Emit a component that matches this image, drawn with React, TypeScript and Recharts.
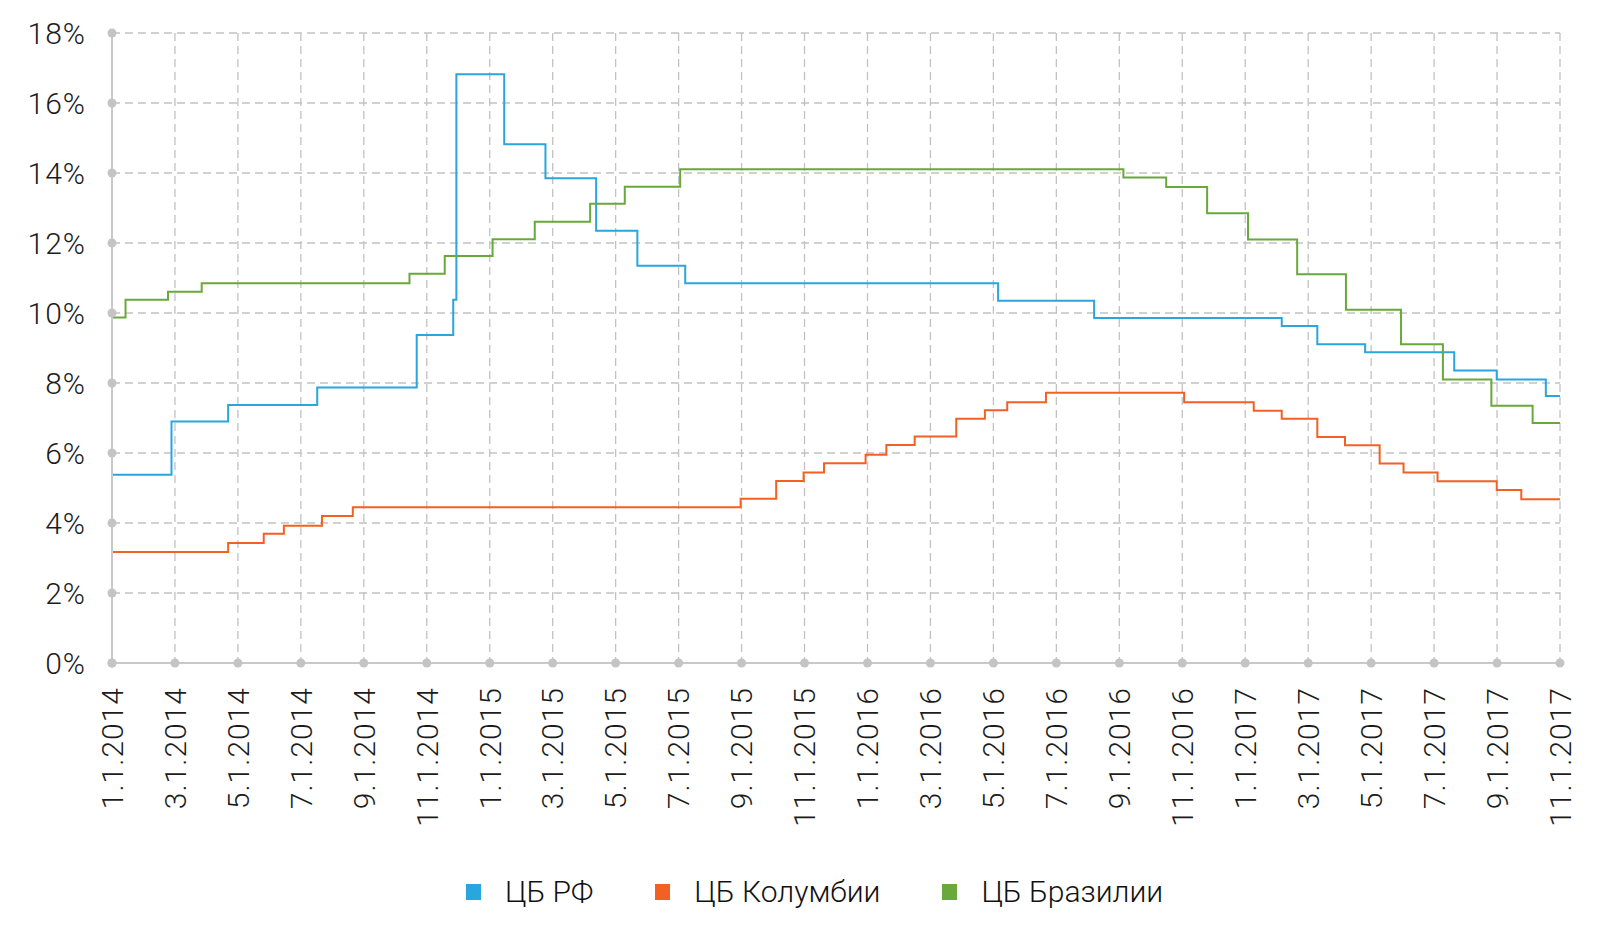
import { LineChart, Line, XAxis, YAxis, CartesianGrid } from 'recharts';

// x = months since 1.1.2014, y = key rate in %
const rfMonths = [0, 1.89, 3.69, 6.52, 9.68, 10.84, 10.94, 12.46, 13.77, 15.38, 16.69, 18.21, 28.15, 31.2, 37.16, 38.29, 39.81, 42.64, 43.99, 45.55, 46];
const rfRates = [5.38, 6.9, 7.37, 7.87, 9.37, 10.38, 16.82, 14.82, 13.85, 12.35, 11.35, 10.85, 10.35, 9.86, 9.63, 9.11, 8.88, 8.36, 8.1, 7.63, 7.63];

const coMonths = [0, 3.69, 4.82, 5.46, 6.67, 7.65, 19.97, 21.1, 21.97, 22.62, 23.94, 24.6, 25.5, 26.82, 27.73, 28.44, 29.67, 34.06, 36.27, 37.16, 38.29, 39.17, 40.27, 41.03, 42.11, 43.99, 44.77, 46];
const coRates = [3.17, 3.43, 3.69, 3.92, 4.2, 4.45, 4.69, 5.2, 5.44, 5.71, 5.95, 6.23, 6.47, 6.98, 7.22, 7.45, 7.72, 7.45, 7.21, 6.98, 6.46, 6.22, 5.7, 5.44, 5.19, 4.94, 4.68, 4.68];

const brMonths = [0, 0.43, 1.78, 2.85, 9.45, 10.57, 12.09, 13.43, 15.19, 16.29, 18.05, 32.13, 33.49, 34.79, 36.09, 37.65, 39.2, 40.95, 42.28, 43.82, 45.13, 46];
const brRates = [9.87, 10.38, 10.61, 10.85, 11.12, 11.63, 12.11, 12.61, 13.12, 13.61, 14.11, 13.87, 13.6, 12.85, 12.1, 11.11, 10.09, 9.11, 8.1, 7.35, 6.86, 6.86];

const xTickLabels = [
  '1.1.2014', '3.1.2014', '5.1.2014', '7.1.2014', '9.1.2014', '11.1.2014',
  '1.1.2015', '3.1.2015', '5.1.2015', '7.1.2015', '9.1.2015', '11.1.2015',
  '1.1.2016', '3.1.2016', '5.1.2016', '7.1.2016', '9.1.2016', '11.1.2016',
  '1.1.2017', '3.1.2017', '5.1.2017', '7.1.2017', '9.1.2017', '11.1.2017',
];
const yTicks = [0, 2, 4, 6, 8, 10, 12, 14, 16, 18];

const series = [
  { id: 'rf', name: 'ЦБ РФ', color: '#29a6de', months: rfMonths, rates: rfRates },
  { id: 'co', name: 'ЦБ Колумбии', color: '#f26024', months: coMonths, rates: coRates },
  { id: 'br', name: 'ЦБ Бразилии', color: '#69a83a', months: brMonths, rates: brRates },
];

const xTicks = xTickLabels.map((_, i) => i * 2);

const FONT = 'Roboto, "Open Sans", sans-serif';
const AXIS_GRAY = '#c9c9c9';

const XTick = ({ x, y, payload }: any) => {
  const label = xTickLabels[Math.round(payload.value / 2)];
  const ty = y + 24;
  return (
    <g>
      <circle cx={x} cy={y} r={4.5} fill="#c4c4c4" />
      <text
        x={x}
        y={ty}
        dy="0.36em"
        transform={`rotate(-90, ${x}, ${ty})`}
        textAnchor="end"
        fontFamily={FONT}
        fontWeight={300}
        fontSize={30}
        letterSpacing={1}
        fill="#1c1c1c"
      >
        {label}
      </text>
    </g>
  );
};

const YTick = ({ x, y, payload }: any) => (
  <g>
    <circle cx={x} cy={y} r={4.5} fill="#c4c4c4" />
    <text
      x={x - 26}
      y={y}
      dy="0.36em"
      textAnchor="end"
      fontFamily={FONT}
      fontWeight={300}
      fontSize={30}
      letterSpacing={1}
      fill="#1c1c1c"
    >
      {`${payload.value}%`}
    </text>
  </g>
);

export default function App() {
  return (
    <div style={{ position: 'absolute', left: 0, top: 0, width: 1600, height: 938, background: '#fff' }}>
      <LineChart width={1600} height={938} margin={{ top: 33, right: 40, left: 0, bottom: 75 }}>
        <CartesianGrid stroke="#c2c2c2" strokeWidth={1.3} strokeDasharray="8 5" />
        <XAxis
          type="number"
          dataKey="m"
          domain={[0, 46]}
          ticks={xTicks}
          interval={0}
          height={200}
          tickSize={0}
          tickMargin={0}
          tickLine={false}
          axisLine={{ stroke: AXIS_GRAY, strokeWidth: 2 }}
          tick={<XTick />}
          allowDataOverflow
        />
        <YAxis
          type="number"
          domain={[0, 18]}
          ticks={yTicks}
          interval={0}
          width={112}
          tickSize={0}
          tickMargin={0}
          tickLine={false}
          axisLine={{ stroke: AXIS_GRAY, strokeWidth: 2 }}
          tick={<YTick />}
        />
        {series.map((s) => (
          <Line
            key={s.id}
            data={s.months.map((m, i) => ({ m, v: s.rates[i] }))}
            dataKey="v"
            name={s.name}
            type="stepAfter"
            stroke={s.color}
            strokeWidth={2}
            dot={false}
            activeDot={false}
            isAnimationActive={false}
          />
        ))}
      </LineChart>
      <div
        style={{
          position: 'absolute',
          top: 874,
          left: 466,
          display: 'flex',
          alignItems: 'center',
          fontFamily: FONT,
          fontWeight: 300,
          fontSize: 30,
          color: '#111',
          whiteSpace: 'nowrap',
        }}
      >
        {series.map((s, i) => (
          <div key={s.id} style={{ display: 'flex', alignItems: 'center', marginLeft: i === 0 ? 0 : 62 }}>
            <span style={{ display: 'inline-block', width: 15, height: 16, background: s.color, marginRight: 24 }} />
            <span>{s.name}</span>
          </div>
        ))}
      </div>
    </div>
  );
}
